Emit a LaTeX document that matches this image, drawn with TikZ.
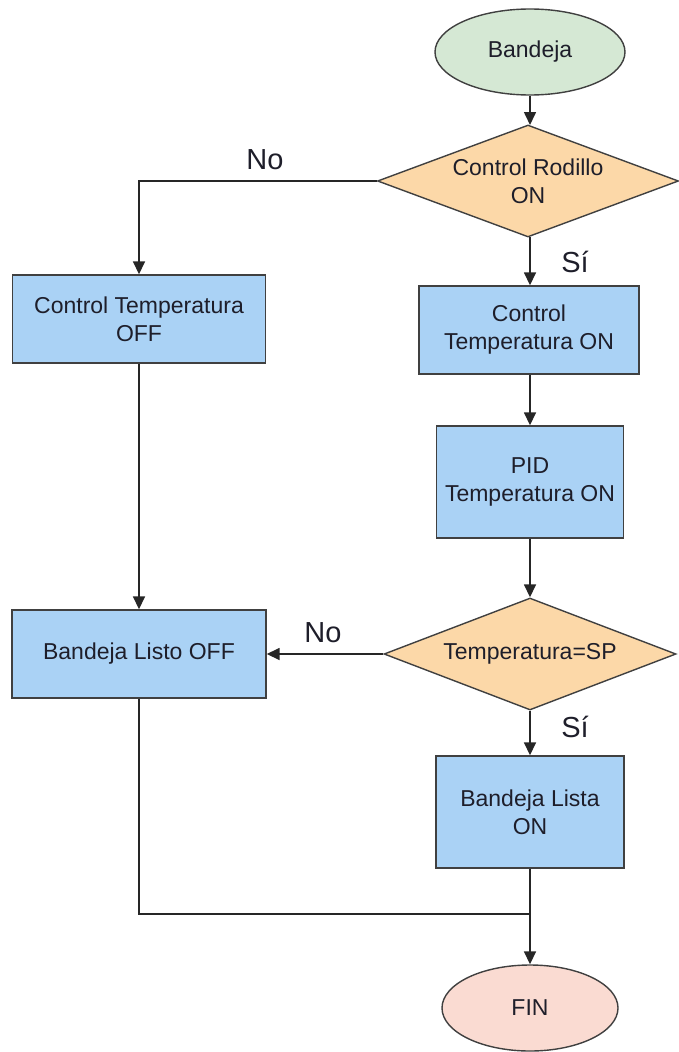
\documentclass[tikz,border=0pt]{standalone}
\usepackage{fontspec}
\setmainfont{Liberation Sans}
\usetikzlibrary{shapes.geometric,arrows.meta}
\definecolor{startfill}{HTML}{D5E8D4}
\definecolor{endfill}{HTML}{FADBD2}
\definecolor{decfill}{HTML}{FCD8A8}
\definecolor{procfill}{HTML}{AAD2F5}
\definecolor{edgecol}{HTML}{404040}
\definecolor{txtcol}{HTML}{1E1E2A}
\begin{document}
\begin{tikzpicture}[x=1pt,y=-1pt,
  base/.style={draw=edgecol,line width=1.4pt,text=txtcol,align=center,
    font=\fontsize{23}{28}\selectfont,inner sep=0pt},
  terminal/.style={base,ellipse,minimum width=190pt,minimum height=86pt},
  process/.style={base,rectangle,fill=procfill},
  decision/.style={base,diamond,aspect=2.7,fill=decfill},
  flow/.style={draw=black!85,line width=1.6pt,-{Triangle[length=13pt,width=12pt]}},
  plain/.style={draw=black!85,line width=1.6pt},
  lbl/.style={text=txtcol,font=\fontsize{29}{32}\selectfont,inner sep=0pt}]
\useasboundingbox (0,0) rectangle (679,1052);

% terminals
\node[terminal,fill=startfill] (start) at (530,52) {Bandeja};
\node[terminal,fill=endfill,minimum width=176pt] (fin) at (530,1008) {FIN};

% decisions
\node[decision,minimum width=301pt,minimum height=112pt] (rod) at (528,181) {Control Rodillo\\ON};
\node[decision,minimum width=292pt,minimum height=112pt] (tsp) at (530,654) {Temperatura=SP};

% processes
\node[process,minimum width=253pt,minimum height=88pt] (ctoff) at (139,319) {Control Temperatura\\OFF};
\node[process,minimum width=220pt,minimum height=88pt] (cton) at (529,330) {Control\\Temperatura ON};
\node[process,minimum width=187pt,minimum height=112pt] (pid) at (530,482) {PID\\Temperatura ON};
\node[process,minimum width=254pt,minimum height=88pt] (bloff) at (139,654) {Bandeja Listo OFF};
\node[process,minimum width=188pt,minimum height=112pt] (blon) at (530,812) {Bandeja Lista\\ON};

\coordinate (join) at (530,914);

% connectors
\draw[flow] (start.south) -- (530,125);
\draw[flow] (rod.west) -| (ctoff.north);
\draw[flow] (530,237) -- (cton.north -| 530,0);
\draw[flow] (cton.south -| 530,0) -- (pid.north);
\draw[flow] (pid.south) -- (tsp.north);
\draw[flow] (tsp.west) -- (bloff.east);
\draw[flow] (tsp.south) -- (blon.north);
\draw[flow] (ctoff.south) -- (bloff.north);
\draw[plain] (bloff.south) |- (join);
\draw[flow] (blon.south) -- (fin.north);

% branch labels
\node[lbl] (no1) at (265,160) {No};
\node[lbl] (si1) at (575,262) {Sí};
\node[lbl] (no2) at (323,633) {No};
\node[lbl] (si2) at (575,727) {Sí};
\end{tikzpicture}
\end{document}
